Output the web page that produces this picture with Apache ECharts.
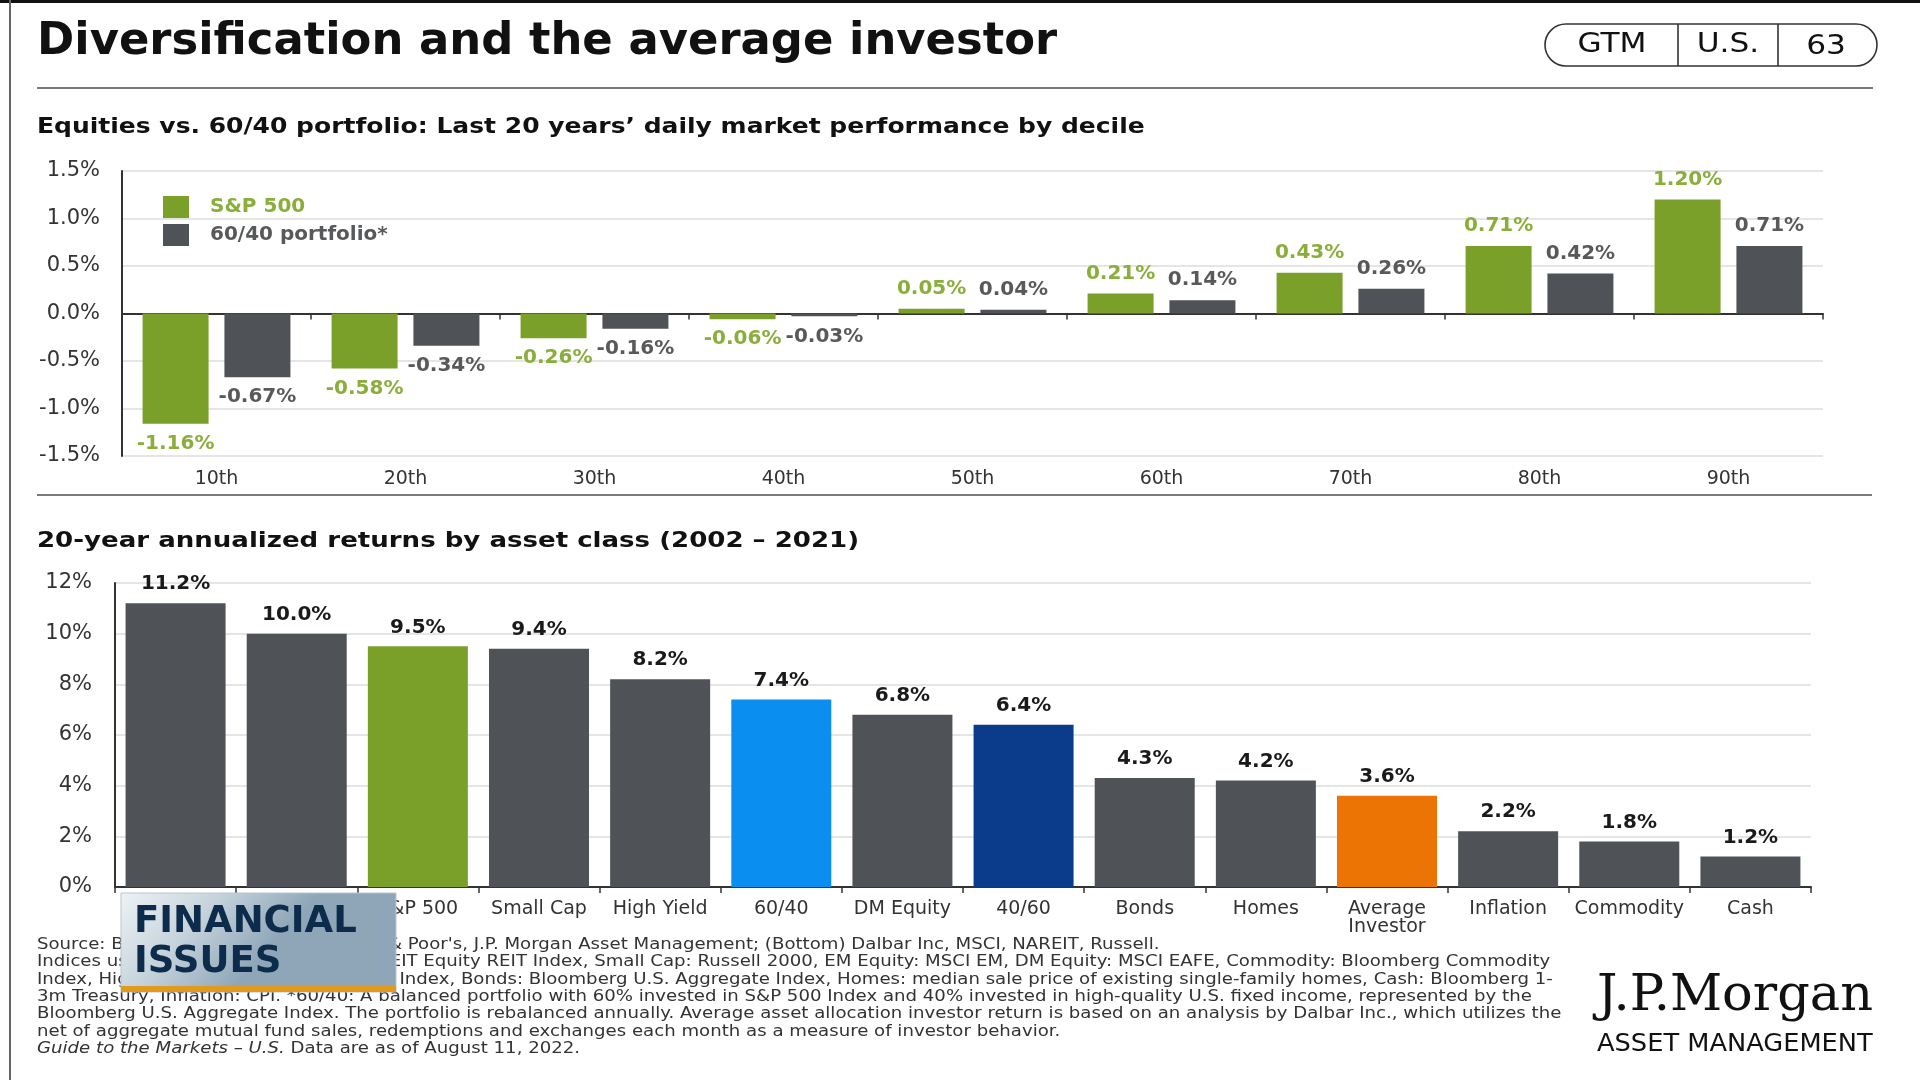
<!DOCTYPE html>
<html>
<head>
<meta charset="utf-8">
<script src="https://cdn.jsdelivr.net/npm/echarts@6/dist/echarts.min.js"></script>
<style>
  html, body { margin: 0; padding: 0; background: #ffffff; }
  #chart { width: 1920px; height: 1080px; }
</style>
</head>
<body>
<div id="chart"></div>
<script>
// ---------------- DATA ----------------
const deciles = ['10th', '20th', '30th', '40th', '50th', '60th', '70th', '80th', '90th'];
const sp500Decile = [-1.16, -0.58, -0.26, -0.06, 0.05, 0.21, 0.43, 0.71, 1.20];
const portfolio6040Decile = [-0.67, -0.34, -0.16, -0.03, 0.04, 0.14, 0.26, 0.42, 0.71];
const topTicks = [-1.5, -1.0, -0.5, 0.0, 0.5, 1.0, 1.5];

const assetClasses = ['REITs', 'EM Equity', 'S&P 500', 'Small Cap', 'High Yield', '60/40', 'DM Equity', '40/60', 'Bonds', 'Homes', 'Average\nInvestor', 'Inflation', 'Commodity', 'Cash'];
const assetReturns = [11.2, 10.0, 9.5, 9.4, 8.2, 7.4, 6.8, 6.4, 4.3, 4.2, 3.6, 2.2, 1.8, 1.2];
const bottomTicks = [0, 2, 4, 6, 8, 10, 12];

const footnoteLines = [
  "Source: Bloomberg, FactSet, Standard & Poor's, J.P. Morgan Asset Management; (Bottom) Dalbar Inc, MSCI, NAREIT, Russell.",
  "Indices used are as follows: REITs: NAREIT Equity REIT Index, Small Cap: Russell 2000, EM Equity: MSCI EM, DM Equity: MSCI EAFE, Commodity: Bloomberg Commodity",
  "Index, High Yield: Bloomberg Global HY Index, Bonds: Bloomberg U.S. Aggregate Index, Homes: median sale price of existing single-family homes, Cash: Bloomberg 1-",
  "3m Treasury, Inflation: CPI. *60/40: A balanced portfolio with 60% invested in S&P 500 Index and 40% invested in high-quality U.S. fixed income, represented by the",
  "Bloomberg U.S. Aggregate Index. The portfolio is rebalanced annually. Average asset allocation investor return is based on an analysis by Dalbar Inc., which utilizes the",
  "net of aggregate mutual fund sales, redemptions and exchanges each month as a measure of investor behavior."
];
const footnoteItalic = "Guide to the Markets – U.S.";
const footnoteLast = " Data are as of August 11, 2022.";

// ---------------- STYLE ----------------
const FONT = 'DejaVu Sans';
const GREEN = '#7aa02a';
const GREEN_TXT = '#8aae3a';
const GRAY = '#4f5256';
const GRAY_TXT = '#58595b';
const highlight = { 'S&P 500': '#7aa02a', '60/40': '#0a8ff0', '40/60': '#0b3c8c', 'Average\nInvestor': '#ec7405' };

const chart = echarts.init(document.getElementById('chart'), null, { renderer: 'canvas' });

function txt(x, y, text, font, extra) {
  const st = Object.assign({ text: text, font: font, fill: '#111', align: 'left', verticalAlign: 'middle' }, extra && extra.style || {});
  const el = { type: 'text', x: x, y: y, style: st };
  if (extra && extra.scaleX) el.scaleX = extra.scaleX;
  if (extra && extra.z) el.z = extra.z;
  return el;
}

const FOOT_FONT = '15.5px "' + FONT + '"';
const footGraphics = footnoteLines.map((t, i) =>
  txt(37, 937 + i * 17.3, t, FOOT_FONT, { scaleX: 1.17, z: 5, style: { fill: '#333', verticalAlign: 'top' } }));
footGraphics.push(txt(37, 937 + 6 * 17.3, '{i|' + footnoteItalic + '}' + footnoteLast, FOOT_FONT, {
  scaleX: 1.17, z: 5,
  style: { fill: '#333', verticalAlign: 'top',
    rich: { i: { fontStyle: 'italic', fontSize: 15.5, fontFamily: FONT, fill: '#333' } } }
}));

const option = {
  backgroundColor: '#ffffff',
  animation: false,
  textStyle: { fontFamily: FONT },
  grid: [
    { left: 122, top: 171, width: 1701, height: 285 },
    { left: 115, top: 583, width: 1696, height: 304 }
  ],
  legend: {
    left: 158, top: 191, orient: 'vertical', itemWidth: 26, itemHeight: 22, itemGap: 6,
    icon: 'rect',
    data: [
      { name: 'S&P 500', textStyle: { color: GREEN_TXT } },
      { name: '60/40 portfolio*', textStyle: { color: GRAY_TXT } }
    ],
    textStyle: { fontSize: 20, fontWeight: 'bold', fontFamily: FONT, padding: [0, 0, 0, 16] }
  },
  xAxis: [
    { gridIndex: 0, type: 'category', data: deciles,
      axisLine: { onZero: true, lineStyle: { color: '#333', width: 2 } },
      axisTick: { show: true, length: 6, lineStyle: { color: '#333', width: 1.5 } },
      axisLabel: { show: false } },
    { gridIndex: 0, type: 'category', data: deciles, position: 'bottom',
      axisLine: { show: false, onZero: false }, axisTick: { show: false },
      axisLabel: { color: '#333', fontSize: 19, fontFamily: FONT, margin: 14 } },
    { gridIndex: 1, type: 'category', data: assetClasses,
      axisLine: { lineStyle: { color: '#333', width: 2 } },
      axisTick: { show: true, length: 6, lineStyle: { color: '#333', width: 1.5 } },
      axisLabel: { color: '#333', fontSize: 19, fontFamily: FONT, margin: 13, lineHeight: 18, interval: 0 } }
  ],
  yAxis: [
    { gridIndex: 0, type: 'value', min: topTicks[0], max: topTicks[topTicks.length - 1], interval: 0.5,
      axisLine: { show: true, onZero: false, lineStyle: { color: '#333', width: 2 } },
      axisTick: { show: false },
      splitLine: { lineStyle: { color: '#dcdcdc', width: 1.5 } },
      axisLabel: { color: '#333', fontSize: 21, fontFamily: FONT, margin: 22,
        formatter: v => v.toFixed(1) + '%' } },
    { gridIndex: 1, type: 'value', min: bottomTicks[0], max: bottomTicks[bottomTicks.length - 1], interval: 2,
      axisLine: { show: true, lineStyle: { color: '#333', width: 2 } },
      axisTick: { show: false },
      splitLine: { lineStyle: { color: '#dcdcdc', width: 1.5 } },
      axisLabel: { color: '#333', fontSize: 21, fontFamily: FONT, margin: 23,
        formatter: v => v + '%' } }
  ],
  series: [
    { name: 'S&P 500', type: 'bar', xAxisIndex: 0, yAxisIndex: 0, barWidth: 66, barGap: '24%',
      itemStyle: { color: GREEN },
      data: sp500Decile.map(v => ({ value: v, label: { position: v < 0 ? 'bottom' : 'top' } })),
      label: { show: true, color: GREEN_TXT, fontSize: 20, fontWeight: 'bold', fontFamily: FONT, distance: 10,
        formatter: p => p.value.toFixed(2) + '%' } },
    { name: '60/40 portfolio*', type: 'bar', xAxisIndex: 0, yAxisIndex: 0, barWidth: 66, barGap: '24%',
      itemStyle: { color: GRAY },
      data: portfolio6040Decile.map(v => ({ value: v, label: { position: v < 0 ? 'bottom' : 'top' } })),
      label: { show: true, color: GRAY_TXT, fontSize: 20, fontWeight: 'bold', fontFamily: FONT, distance: 10,
        formatter: p => p.value.toFixed(2) + '%' } },
    { name: 'Returns', type: 'bar', xAxisIndex: 2, yAxisIndex: 1, barWidth: 100,
      data: assetReturns.map((v, i) => ({ value: v, itemStyle: { color: highlight[assetClasses[i]] || GRAY } })),
      label: { show: true, position: 'top', color: '#1a1a1a', fontSize: 20, fontWeight: 'bold', fontFamily: FONT, distance: 9,
        formatter: p => p.value.toFixed(1) + '%' } }
  ],
  graphic: [
    // frame marks
    { type: 'rect', shape: { x: 0, y: 0, width: 1920, height: 3 }, style: { fill: '#111' }, silent: true },
    { type: 'line', shape: { x1: 10, y1: 0, x2: 10, y2: 1080 }, style: { stroke: '#666', lineWidth: 2 }, silent: true },
    // title
    txt(37, 43, 'Diversification and the average investor', 'bold 44px "' + FONT + '"', { scaleX: 1.02 }),
    // pill
    { type: 'rect', shape: { x: 1545, y: 24, width: 332, height: 42, r: 21 }, style: { fill: 'none', stroke: '#333', lineWidth: 1.6 } },
    { type: 'line', shape: { x1: 1678, y1: 24, x2: 1678, y2: 66 }, style: { stroke: '#333', lineWidth: 1.6 } },
    { type: 'line', shape: { x1: 1778, y1: 24, x2: 1778, y2: 66 }, style: { stroke: '#333', lineWidth: 1.6 } },
    txt(1612, 45, 'GTM', '26px "' + FONT + '"', { scaleX: 1.2, style: { align: 'center' } }),
    txt(1728, 45, 'U.S.', '26px "' + FONT + '"', { scaleX: 1.2, style: { align: 'center' } }),
    txt(1826, 47, '63', '26px "' + FONT + '"', { scaleX: 1.2, style: { align: 'center' } }),
    // rules
    { type: 'line', shape: { x1: 37, y1: 88, x2: 1873, y2: 88 }, style: { stroke: '#7a7a7a', lineWidth: 2 } },
    { type: 'line', shape: { x1: 37, y1: 495, x2: 1872, y2: 495 }, style: { stroke: '#7a7a7a', lineWidth: 2 } },
    // subtitles
    txt(37, 128, "Equities vs. 60/40 portfolio: Last 20 years’ daily market performance by decile", 'bold 21px "' + FONT + '"', { scaleX: 1.19 }),
    txt(37, 542, '20-year annualized returns by asset class (2002 – 2021)', 'bold 21px "' + FONT + '"', { scaleX: 1.24 }),
    // logo
    txt(1597, 997, 'J.P.Morgan', '50px "DejaVu Serif"', { scaleX: 1.02 }),
    txt(1597, 1045, 'ASSET MANAGEMENT', '24px "' + FONT + '"', { scaleX: 1.07 }),
    ...footGraphics,
    // overlay badge
    { type: 'group', z: 100, children: [
      { type: 'rect', z: 100, shape: { x: 121, y: 893, width: 275, height: 99 },
        style: { fill: { type: 'linear', x: 0, y: 0, x2: 0.4, y2: 1, colorStops: [
          { offset: 0, color: '#eef3f6' }, { offset: 0.5, color: '#c6d3dc' }, { offset: 1, color: '#8ea6b8' } ] },
          stroke: '#b8c6d0', lineWidth: 1 } },
      { type: 'rect', z: 101, shape: { x: 121, y: 986, width: 275, height: 6 }, style: { fill: '#e39a1c' } },
      txt(134, 922, 'FINANCIAL', 'bold 37px "' + FONT + '"', { z: 102, style: { fill: '#0d2b4b' } }),
      txt(134, 962, 'ISSUES', 'bold 37px "' + FONT + '"', { z: 102, style: { fill: '#0d2b4b' } })
    ] }
  ]
};
chart.setOption(option);
</script>
</body>
</html>
